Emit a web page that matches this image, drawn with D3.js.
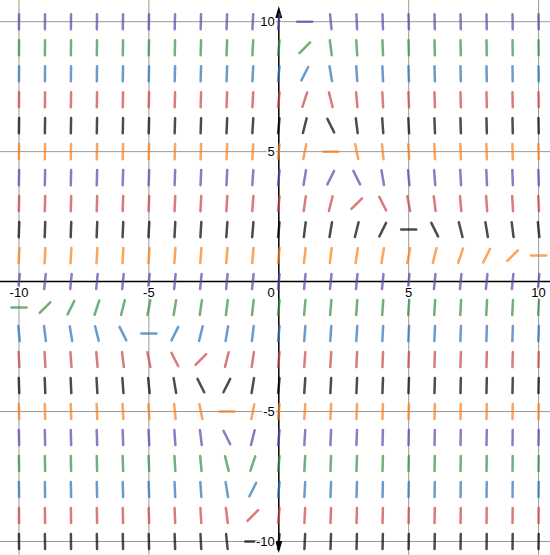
<!DOCTYPE html>
<html>
<head>
<meta charset="utf-8">
<script src="https://cdn.jsdelivr.net/npm/d3@7"></script>
<style>
  body { margin: 0; background: #fff; }
  .lbl { font-family: "Liberation Sans", Arial, sans-serif; font-size: 13px; fill: #000;
         stroke: #fff; stroke-width: 3px; paint-order: stroke; stroke-linejoin: round; }
</style>
</head>
<body>
<div id="chart"></div>
<script>
// grid points of the slope field
var xValues = [-10,-9,-8,-7,-6,-5,-4,-3,-2,-1,0,1,2,3,4,5,6,7,8,9,10];
var yValues = [10,9,8,7,6,5,4,3,2,1,0,-1,-2,-3,-4,-5,-6,-7,-8,-9,-10];

// colour of each row (same order as yValues)
var rowColors = ["purple","green","blue","red","black","orange","purple","red","black","orange","purple",
                 "green","blue","red","black","orange","purple","green","blue","red","black"];

// slope read at each point, one row per y (top to bottom), x from -10 to 10
var slopes = [
  [110,100,90,80,70,60,50,40,30,20,10,0,-10,-20,-30,-40,-50,-60,-70,-80,-90],
  [100,91,82,73,64,55,46,37,28,19,10,1,-8,-17,-26,-35,-44,-53,-62,-71,-80],
  [90,82,74,66,58,50,42,34,26,18,10,2,-6,-14,-22,-30,-38,-46,-54,-62,-70],
  [80,73,66,59,52,45,38,31,24,17,10,3,-4,-11,-18,-25,-32,-39,-46,-53,-60],
  [70,64,58,52,46,40,34,28,22,16,10,4,-2,-8,-14,-20,-26,-32,-38,-44,-50],
  [60,55,50,45,40,35,30,25,20,15,10,5,0,-5,-10,-15,-20,-25,-30,-35,-40],
  [50,46,42,38,34,30,26,22,18,14,10,6,2,-2,-6,-10,-14,-18,-22,-26,-30],
  [40,37,34,31,28,25,22,19,16,13,10,7,4,1,-2,-5,-8,-11,-14,-17,-20],
  [30,28,26,24,22,20,18,16,14,12,10,8,6,4,2,0,-2,-4,-6,-8,-10],
  [20,19,18,17,16,15,14,13,12,11,10,9,8,7,6,5,4,3,2,1,0],
  [10,10,10,10,10,10,10,10,10,10,10,10,10,10,10,10,10,10,10,10,10],
  [0,1,2,3,4,5,6,7,8,9,10,11,12,13,14,15,16,17,18,19,20],
  [-10,-8,-6,-4,-2,0,2,4,6,8,10,12,14,16,18,20,22,24,26,28,30],
  [-20,-17,-14,-11,-8,-5,-2,1,4,7,10,13,16,19,22,25,28,31,34,37,40],
  [-30,-26,-22,-18,-14,-10,-6,-2,2,6,10,14,18,22,26,30,34,38,42,46,50],
  [-40,-35,-30,-25,-20,-15,-10,-5,0,5,10,15,20,25,30,35,40,45,50,55,60],
  [-50,-44,-38,-32,-26,-20,-14,-8,-2,4,10,16,22,28,34,40,46,52,58,64,70],
  [-60,-53,-46,-39,-32,-25,-18,-11,-4,3,10,17,24,31,38,45,52,59,66,73,80],
  [-70,-62,-54,-46,-38,-30,-22,-14,-6,2,10,18,26,34,42,50,58,66,74,82,90],
  [-80,-71,-62,-53,-44,-35,-26,-17,-8,1,10,19,28,37,46,55,64,73,82,91,100],
  [-90,-80,-70,-60,-50,-40,-30,-20,-10,0,10,20,30,40,50,60,70,80,90,100,110]
];

var xTicks = [-10,-5,0,5,10];
var yTicks = [-10,-5,5,10];

var palette = { red: "#c74440", blue: "#2d70b3", green: "#388c46",
                purple: "#6042a6", orange: "#fa7e19", black: "#000000" };

var width = 550, height = 555;
var x = d3.scaleLinear().domain([-10, 10]).range([19, 538.6]);
var y = d3.scaleLinear().domain([-10, 10]).range([541.5, 21.7]);
var half = 0.29; // half length of a dash, in units

var svg = d3.select("#chart").append("svg")
    .attr("width", width)
    .attr("height", height);

// major grid
svg.append("g").selectAll("line").data(xTicks.filter(function (d) { return d != 0; }))
  .enter().append("line")
    .attr("x1", function (d) { return x(d); }).attr("x2", function (d) { return x(d); })
    .attr("y1", 0).attr("y2", height)
    .attr("stroke", "#999").attr("stroke-width", 1);
svg.append("g").selectAll("line").data(yTicks)
  .enter().append("line")
    .attr("y1", function (d) { return y(d); }).attr("y2", function (d) { return y(d); })
    .attr("x1", 0).attr("x2", width)
    .attr("stroke", "#999").attr("stroke-width", 1);

// axes
svg.append("line")
  .attr("x1", 0).attr("x2", width).attr("y1", y(0)).attr("y2", y(0))
  .attr("stroke", "#000").attr("stroke-width", 1.5);
svg.append("line")
  .attr("x1", x(0)).attr("x2", x(0)).attr("y1", 12).attr("y2", height - 6)
  .attr("stroke", "#000").attr("stroke-width", 1.5);
var ax = x(0);
svg.append("path")
  .attr("d", "M" + ax + ",6L" + (ax - 3.5) + ",18L" + (ax + 3.5) + ",18Z")
  .attr("fill", "#000");
svg.append("path")
  .attr("d", "M" + ax + "," + (height - 2) + "L" + (ax - 3.5) + "," + (height - 14) + "L" + (ax + 3.5) + "," + (height - 14) + "Z")
  .attr("fill", "#000");

// slope dashes
var dashes = [];
yValues.forEach(function (yv, i) {
  xValues.forEach(function (xv, j) {
    dashes.push({ x: xv, y: yv, m: slopes[i][j], color: palette[rowColors[i]] });
  });
});

svg.append("g").selectAll("line").data(dashes)
  .enter().append("line")
    .attr("x1", function (d) { var a = Math.atan(d.m); return x(d.x - half * Math.cos(a)); })
    .attr("y1", function (d) { var a = Math.atan(d.m); return y(d.y - half * Math.sin(a)); })
    .attr("x2", function (d) { var a = Math.atan(d.m); return x(d.x + half * Math.cos(a)); })
    .attr("y2", function (d) { var a = Math.atan(d.m); return y(d.y + half * Math.sin(a)); })
    .attr("stroke", function (d) { return d.color; })
    .attr("stroke-opacity", 0.7)
    .attr("stroke-width", 2.5)
    .attr("stroke-linecap", "round");

// tick labels
svg.append("g").selectAll("text").data(xTicks)
  .enter().append("text")
    .attr("class", "lbl")
    .attr("x", function (d) { return d == 0 ? x(0) - 4 : x(d); })
    .attr("y", y(0) + 15)
    .attr("text-anchor", function (d) { return d == 0 ? "end" : "middle"; })
    .text(function (d) { return d < 0 ? "-" + Math.abs(d) : d; });
svg.append("g").selectAll("text").data(yTicks)
  .enter().append("text")
    .attr("class", "lbl")
    .attr("x", x(0) - 4)
    .attr("y", function (d) { return y(d) + 4.5; })
    .attr("text-anchor", "end")
    .text(function (d) { return d < 0 ? "-" + Math.abs(d) : d; });
</script>
</body>
</html>
